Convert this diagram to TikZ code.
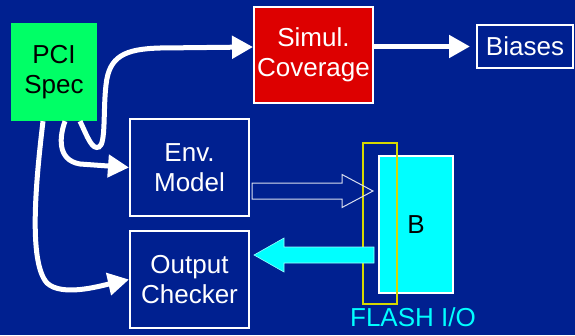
\documentclass[tikz,border=0pt]{standalone}
\usepackage{fontspec}
\setmainfont{Liberation Sans}
\usepackage{tikz}
\usetikzlibrary{arrows.meta,calc,positioning}
\definecolor{slide}{HTML}{002090}
\definecolor{specgreen}{HTML}{00FF66}
\definecolor{covred}{HTML}{DD0000}
\definecolor{flashcyan}{HTML}{00FFFF}
\definecolor{flashyel}{HTML}{D8D800}

\begin{document}
\begin{tikzpicture}[x=1pt,y=-1pt,font=\fontsize{26}{30}\selectfont,
  blk/.style={draw=white,line width=2pt,text=white,align=center,inner sep=0pt},
  flow/.style={white,line width=5pt,-{Triangle[length=21pt,width=22pt]}}]
  \fill[slide] (0,0) rectangle (575,335);
  % blocks
  \node[fill=specgreen,text=black,align=center,inner sep=0pt,
        minimum width=86pt,minimum height=98pt] (pci) at (54,72) {PCI\\Spec};
  \node[blk,fill=covred,minimum width=119pt,minimum height=96pt] (sim) at (313.5,55) {Simul.\\Coverage};
  \node[blk,minimum width=96pt,minimum height=43pt] (bias) at (525,46.5) {Biases};
  \node[blk,minimum width=119pt,minimum height=97pt] (env) at (189.5,167.5) {Env.\\Model};
  \node[blk,minimum width=119pt,minimum height=97pt] (chk) at (189.5,279.5) {Output\\Checker};
  % design block and flash interface
  \node[blk,fill=flashcyan,text=black,minimum width=74pt,minimum height=137pt] (bblk) at (416,224.5) {B};
  \node[draw=flashyel,line width=2.5pt,minimum width=34pt,minimum height=161pt,inner sep=0pt] (flash) at (380,223.5) {};
  \node[text=flashcyan,below=0pt of flash.south,xshift=33pt,inner sep=0pt,yshift=-2pt] (flashlbl) {FLASH I/O};
  % spec flows
  \draw[flow] ($(pci.south)+(26,0)$) .. controls (88,138) and (92,150) .. (99,147)
     .. controls (106,144) and (103,110) .. (106,85)
     .. controls (109,56) and (125,49) .. (160,48) -- ($(sim.west)+(0,-8)$);
  \draw[flow] ($(pci.south)+(11,0)$) .. controls (60,135) and (56,160) .. (80,164) -- (env.west);
  \draw[flow] ($(pci.south)+(-11,0)$) .. controls (36,180) and (28,262) .. (47,283)
     .. controls (62,297) and (100,286) .. (chk.west);
  \draw[flow,shorten >=6pt] (sim.east |- bias.west) -- (bias.west);
  % stimulus into B (hollow)
  \coordinate (stim) at ($(env.east)+(2,23.5)$);
  \draw[white!85!slide,line width=1pt] (stim) ++(0,-8) -- ++(90,0) -- ++(0,-8.5) -- ++(31,16.5)
     -- ++(-31,16.5) -- ++(0,-8.5) -- ++(-90,0) -- cycle;
  % response out of B
  \coordinate (resp) at ($(chk.east)+(4,-24.5)$);
  \filldraw[fill=flashcyan,draw=white!60!flashcyan,line width=0.6pt] (resp) -- ++(30,-17) -- ++(0,9) -- ++(90,0)
     -- ++(0,16) -- ++(-90,0) -- ++(0,9) -- cycle;
\end{tikzpicture}
\end{document}
